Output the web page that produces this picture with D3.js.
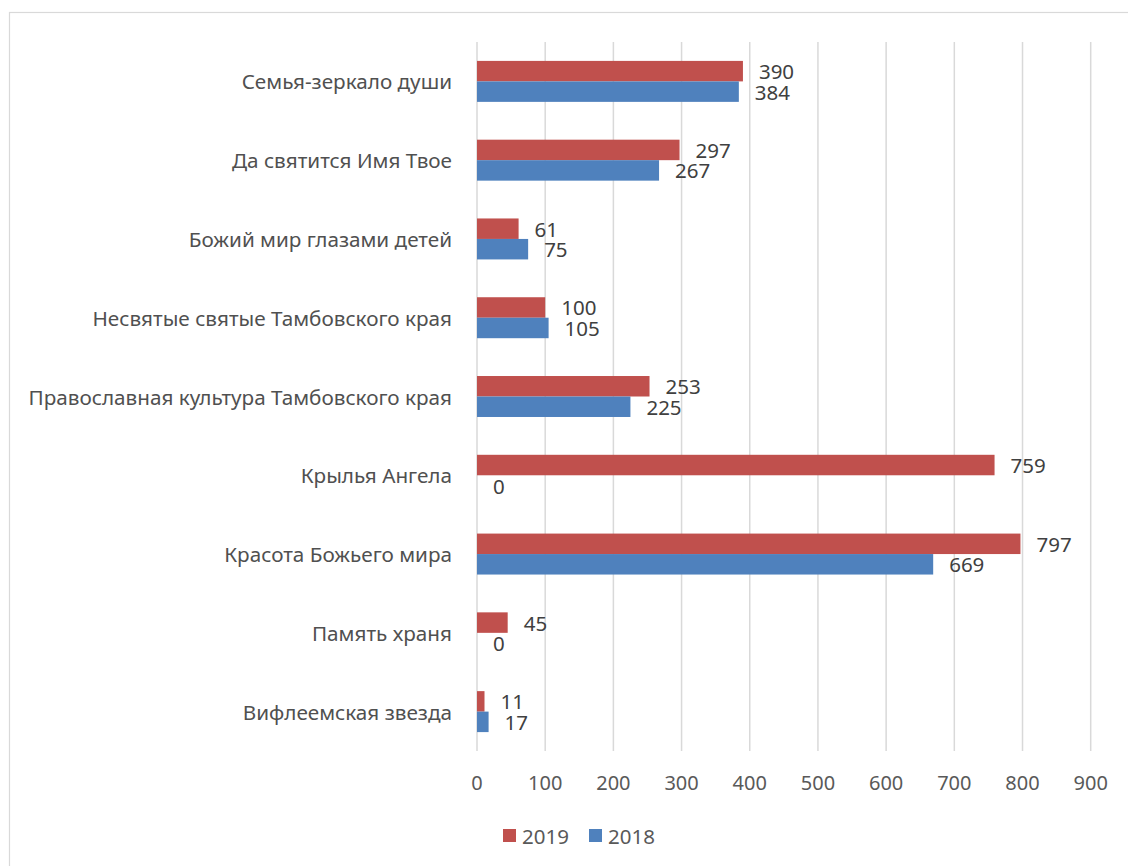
<!DOCTYPE html>
<html>
<head>
<meta charset="utf-8">
<script src="https://d3js.org/d3.v7.min.js"></script>
<style>
  body { margin: 0; background: #fff; }
  text { font-family: "Noto Sans", "Open Sans", sans-serif; fill: #404040; }
</style>
</head>
<body>
<svg width="1128" height="866"></svg>
<script>
const categories = ["Семья-зеркало души", "Да святится Имя Твое", "Божий мир глазами детей",
  "Несвятые святые Тамбовского края", "Православная культура Тамбовского края",
  "Крылья Ангела", "Красота Божьего мира", "Память храня", "Вифлеемская звезда"];
const values2019 = [390, 297, 61, 100, 253, 759, 797, 45, 11];
const values2018 = [384, 267, 75, 105, 225, 0, 669, 0, 17];
const seriesNames = ["2019", "2018"];
const ticks = [0, 100, 200, 300, 400, 500, 600, 700, 800, 900];

const colors = {"2019": "#C0504D", "2018": "#4F81BD"};
const svg = d3.select("svg");

// chart border
svg.append("rect")
  .attr("x", 9.5).attr("y", 12.5)
  .attr("width", 1140).attr("height", 880)
  .attr("fill", "none").attr("stroke", "#d9d9d9").attr("stroke-width", 1.2);

const plotLeft = 477, plotRight = 1090.7, plotTop = 42, plotBottom = 751;
const x = d3.scaleLinear().domain([0, 900]).range([plotLeft, plotRight]);
const y = d3.scaleBand().domain(categories).range([plotTop, plotBottom]).paddingInner(0.48).paddingOuter(0.24);
const ySub = d3.scaleBand().domain(seriesNames).range([0, y.bandwidth()]);

// gridlines
svg.append("g").selectAll("line").data(ticks).join("line")
  .attr("x1", d => x(d)).attr("x2", d => x(d))
  .attr("y1", plotTop).attr("y2", plotBottom)
  .attr("stroke", "#d9d9d9").attr("stroke-width", 1.5);

// tick labels
svg.append("g").selectAll("text").data(ticks).join("text")
  .attr("x", d => x(d)).attr("y", 790)
  .attr("text-anchor", "middle")
  .style("font-size", "20px").style("fill", "#595959")
  .text(d => d);

// category labels
svg.append("g").selectAll("text").data(categories).join("text")
  .attr("x", 452).attr("y", d => y(d) + y.bandwidth() / 2)
  .attr("text-anchor", "end").attr("dominant-baseline", "central")
  .style("font-size", "20.7px").style("fill", "#505050")
  .text(d => d);

const data = [];
categories.forEach((c, i) => {
  data.push({cat: c, s: "2019", v: values2019[i]});
  data.push({cat: c, s: "2018", v: values2018[i]});
});

svg.append("g").selectAll("rect").data(data).join("rect")
  .attr("x", x(0))
  .attr("y", d => y(d.cat) + ySub(d.s))
  .attr("width", d => x(d.v) - x(0))
  .attr("height", ySub.bandwidth())
  .attr("fill", d => colors[d.s]);

svg.append("g").selectAll("text").data(data).join("text")
  .attr("x", d => x(d.v) + 16)
  .attr("y", d => y(d.cat) + ySub(d.s) + ySub.bandwidth() / 2)
  .attr("dominant-baseline", "central")
  .style("font-size", "20.5px")
  .text(d => d.v);

// legend
const legend = svg.append("g").attr("transform", "translate(503, 836)");
let lx = 0;
seriesNames.forEach(s => {
  legend.append("rect").attr("x", lx).attr("y", -7).attr("width", 13).attr("height", 13).attr("fill", colors[s]);
  legend.append("text").attr("x", lx + 19).attr("y", 0)
    .attr("dominant-baseline", "central")
    .style("font-size", "20.5px").style("fill", "#595959")
    .text(s);
  lx += 86;
});
</script>
</body>
</html>
